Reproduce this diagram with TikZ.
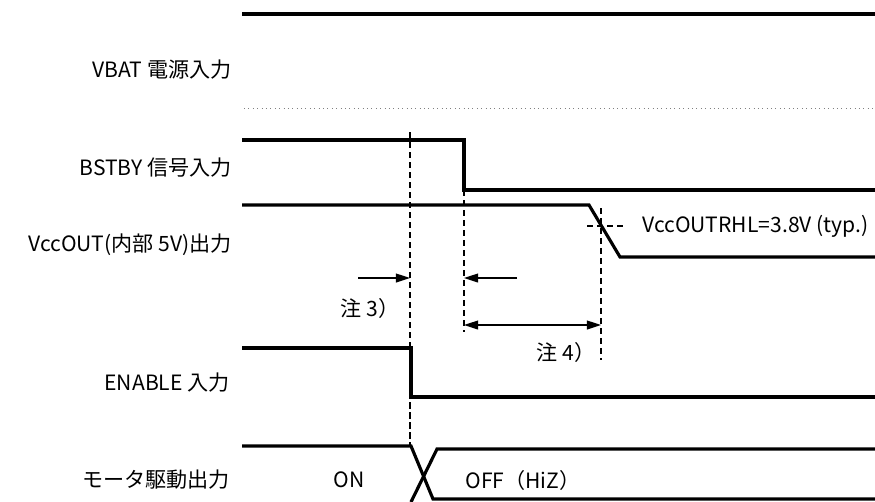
\documentclass[tikz,border=0pt]{standalone}
\usepackage{fontspec}
\setmainfont{Noto Sans CJK JP}
\usepackage{tikz}
\usetikzlibrary{arrows.meta}
\tikzset{
  wave/.style={line width=1.8pt,line join=miter},
  guide/.style={dash pattern=on 3.5pt off 2.2pt,line width=0.8pt},
  dimarr/.style={line width=0.8pt},
  lbl/.style={font=\fontsize{12}{14}\selectfont,inner sep=0pt},
}

\begin{document}
\begin{tikzpicture}[x=0.02cm,y=-0.02cm,
        sig/.style={lbl,anchor=east},
      ]
        \useasboundingbox (0,0) rectangle (875,501);

        % ── Signal names
        \node[sig] (nvbat) at (232,70)  {VBAT 電源入力};
        \node[sig] (nbst)  at (232,168) {BSTBY 信号入力};
        \node[sig] (nvcc)  at (232,245) {VccOUT(内部 5V)出力};
        \node[sig] (nen)   at (230,383) {ENABLE 入力};
        \node[sig] (nmot)  at (230,480) {モータ駆動出力};

        % ── Waveforms
        \draw[wave] (242,14)--(875,14);
        \draw[gray,dotted,line width=0.5pt] (244,108)--(875,108);
        \draw[wave] (242,140)--(464,140)--(464,190)--(875,190);
        \draw[wave] (242,205)--(589,205)--(620,257)--(875,257);
        \draw[wave] (242,348)--(411,348)--(411,397)--(875,397);
        \draw[wave] (242,446)--(411,446)--(433,499)--(875,499);
        \draw[wave] (411,502)--(437,449)--(875,449);

        % ── Timing guides
        \coordinate (d1t) at (410,132);  \coordinate (d1b) at (410,446);
        \coordinate (d2t) at (464,190);  \coordinate (d2b) at (464,332);
        \coordinate (d3t) at (601,208);  \coordinate (d3b) at (601,360);
        \coordinate (thl) at (587,226);  \coordinate (thr) at (623,226);
        \draw[guide] (d1t)--(d1b);
        \draw[guide] (d2t)--(d2b);
        \draw[guide] (d3t)--(d3b);
        \draw[guide] (thl)--(thr);

        % ── Intervals
        \coordinate (a3) at (358,278);
        \coordinate (a4) at (517,278);
        \coordinate (b4) at (464,325);
        \draw[dimarr,-{Triangle[length=8pt,width=5pt]}] (a3)--(d1t|-a3);
        \draw[dimarr,-{Triangle[length=8pt,width=5pt]}] (a4)--(d2t|-a4);
        \draw[dimarr,{Triangle[length=8pt,width=5pt]}-{Triangle[length=8pt,width=5pt]}]
          (b4)--(d3t|-b4);

        % ── Notes
        \node[lbl] (n3)   at (370,308) {注 3）};
        \node[lbl] (n4)   at (566,352) {注 4）};
        \node[lbl,anchor=west] (vth) at (642,226) {VccOUTRHL=3.8V (typ.)};
        \node[lbl] (on)   at (349,480) {ON};
        \node[lbl,anchor=west] (off) at (465,480) {OFF（HiZ）};
      \end{tikzpicture}
\end{document}
